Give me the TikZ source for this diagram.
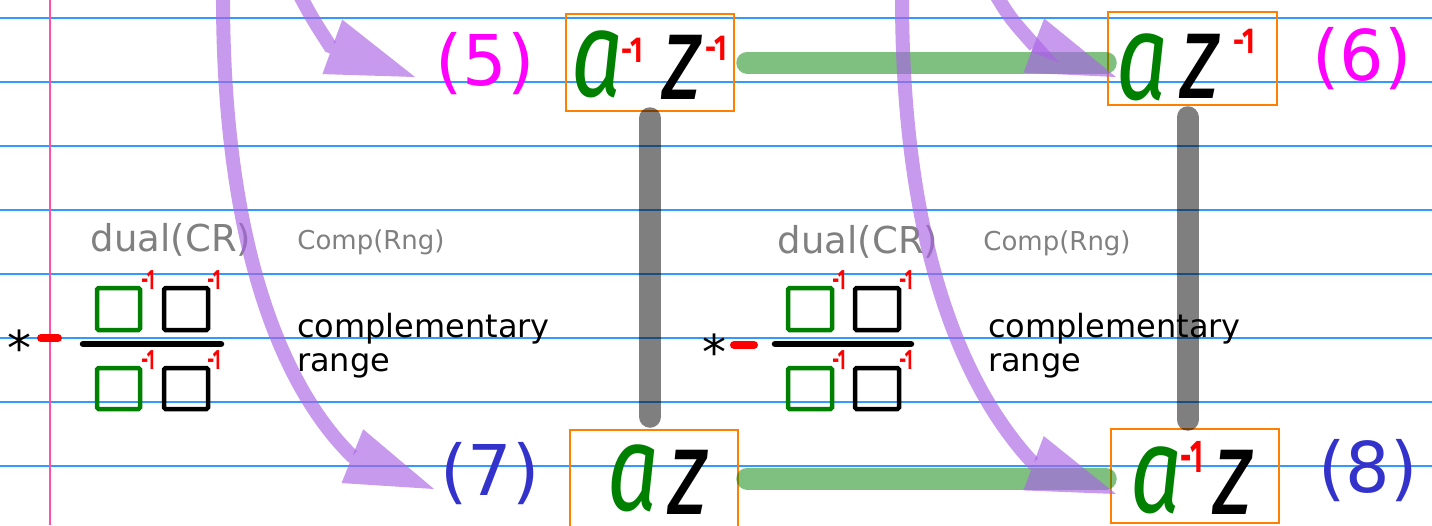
\documentclass[tikz,border=0pt]{standalone}
\usepackage{graphicx}
\usepackage{fontspec}
\setmainfont{DejaVu Sans}
\newfontfamily\hand{Fira Sans}
\usetikzlibrary{arrows.meta,calc}
\definecolor{rulecol}{RGB}{51,153,255}
\definecolor{margincol}{RGB}{255,80,170}
\definecolor{boxor}{RGB}{255,128,0}
\definecolor{lgreen}{RGB}{0,128,0}
\definecolor{purp}{RGB}{170,100,230}
\definecolor{labblue}{RGB}{51,51,204}
\definecolor{labmag}{RGB}{255,0,255}
\definecolor{txtgray}{RGB}{128,128,128}
\newcommand{\hw}[1]{\scalebox{0.75}[1]{#1}}
\newcommand{\minv}[2]{\scalebox{#2}[1]{\fontsize{#1}{#1}\selectfont\hand\bfseries -1}}
\begin{document}
\begin{tikzpicture}[x=1pt,y=-1pt,
  ruleline/.style={draw=rulecol, line width=1.5pt},
  nbox/.style={draw=boxor, line width=2.5pt, inner sep=0pt},
  aletter/.style={text=lgreen, inner sep=0pt, font=\hand\itshape\fontsize{122}{122}\selectfont},
  zletter/.style={text=black, inner sep=0pt, font=\hand\itshape\fontsize{122}{122}\selectfont},
  supbig/.style={text=red, inner sep=0pt},
  numlab/.style={inner sep=0pt, font=\fontsize{70}{70}\selectfont},
  graytxt/.style={inner sep=0pt, text=txtgray},
  grayconn/.style={draw=black, draw opacity=0.5, line width=22pt, line cap=round},
  greenconn/.style={draw=lgreen, draw opacity=0.5, line width=22pt, line cap=round},
  parrow/.style={draw=purp, opacity=0.65, line width=14pt, -{Triangle[length=88pt,width=58pt,line width=0pt]}},
  sqg/.style={draw=lgreen, line width=4.5pt, rounded corners=1.5pt},
  sqk/.style={draw=black, line width=4.5pt, rounded corners=1.5pt},
  redbar/.style={draw=red, line width=8pt, line cap=round},
  fracbar/.style={draw=black, line width=6.5pt, line cap=round},
  smallinv/.style={text=red, inner sep=0pt}
]
\useasboundingbox (0,0) rectangle (1432,525);
\clip (0,0) rectangle (1432,525);
\fill[white] (0,0) rectangle (1432,525);

% ruled paper
\foreach \yy in {18,82,...,466} \draw[ruleline] (0,\yy) -- (1432,\yy);
\draw[draw=margincol, line width=1.5pt] (50,0) -- (50,525);

% boxes
\node[nbox, minimum width=168pt, minimum height=97pt] (b5) at (650,62.5) {};
\node[nbox, minimum width=169pt, minimum height=93pt] (b6) at (1192.5,58.5) {};
\node[nbox, minimum width=168pt, minimum height=97pt] (b7) at (654,478.5) {};
\node[nbox, minimum width=168pt, minimum height=94pt] (b8) at (1195,476) {};

% connectors
\draw[grayconn, shorten <=6pt, shorten >=12pt] (b5.south) -- (b5.south |- b7.north);
\draw[grayconn, shorten <=11pt, shorten >=8pt] ([xshift=-5pt]b6.south) -- ([xshift=-5pt]b6.south |- b8.north);
\draw[greenconn, shorten <=12pt, shorten >=1pt] (b5.east) -- (b5.east -| b6.west);
\draw[greenconn, shorten <=8pt, shorten >=4pt] (b7.east) -- (b7.east -| b8.west);

% box contents
\node[aletter] (a5) at (598,64) {\hw{a}};
\node[supbig] (s5a) at (632,50) {\minv{36}{0.75}};
\node[zletter] (z5) at (682,67) {\hw{z}};
\node[supbig] (s5b) at (716,48) {\minv{36}{0.75}};

\node[aletter] (a6) at (1143,67) {\hw{a}};
\node[zletter] (z6) at (1200,66) {\hw{z}};
\node[supbig] (s6) at (1244,41) {\minv{36}{0.75}};

\node[aletter] (a7) at (634,478) {\hw{a}};
\node[zletter] (z7) at (688,482) {\hw{z}};

\node[aletter] (a8) at (1157,480) {\hw{a}};
\node[supbig] (s8) at (1192,457) {\minv{46}{0.6}};
\node[zletter] (z8) at (1233,482) {\hw{z}};

% labels
\node[numlab, text=labmag] (l5) at (485,64) {(5)};
\node[numlab, text=labmag] (l6) at (1362,59) {(6)};
\node[numlab, text=labblue] (l7) at (490,474) {(7)};
\node[numlab, text=labblue] (l8) at (1368,471) {(8)};

% left annotation group
\node[graytxt, font=\fontsize{37}{37}\selectfont] (d1) at (171,240) {dual(CR)};
\node[graytxt, font=\fontsize{26}{26}\selectfont] (c1) at (371,242) {Comp(Rng)};
\node[inner sep=0pt, anchor=base, font=\fontsize{48}{48}\selectfont] (st1) at (19,365) {*};
\draw[redbar] (41,338) -- (58,338);
\draw[fracbar] (83,344) -- (221,344);
\draw[sqg] (97,288) rectangle (140,330);
\draw[sqk] (164,288) rectangle (208,330);
\draw[sqg] (97,368) rectangle (140,409);
\draw[sqk] (164,368) rectangle (208,409);
\node[smallinv] (i1) at (148,280) {\minv{28}{0.6}};
\node[smallinv] (i2) at (214,280) {\minv{28}{0.6}};
\node[smallinv] (i3) at (148,360) {\minv{28}{0.6}};
\node[smallinv] (i4) at (214,360) {\minv{28}{0.6}};
\node[inner sep=0pt, anchor=west, align=left, font=\fontsize{32}{34}\selectfont] (r1) at (297,345.5) {complementary\\range};

% right annotation group
\node[graytxt, font=\fontsize{37}{37}\selectfont] (d2) at (858,242) {dual(CR)};
\node[graytxt, font=\fontsize{26}{26}\selectfont] (c2) at (1057,243) {Comp(Rng)};
\node[inner sep=0pt, anchor=base, font=\fontsize{48}{48}\selectfont] (st2) at (714,369) {*};
\draw[redbar] (734,345) -- (754,345);
\draw[fracbar] (775,344) -- (911,344);
\draw[sqg] (788,288) rectangle (832,330);
\draw[sqk] (855,288) rectangle (899,330);
\draw[sqg] (788,368) rectangle (832,409);
\draw[sqk] (855,368) rectangle (899,409);
\node[smallinv] (i5) at (839,280) {\minv{28}{0.6}};
\node[smallinv] (i6) at (906,280) {\minv{28}{0.6}};
\node[smallinv] (i7) at (839,360) {\minv{28}{0.6}};
\node[smallinv] (i8) at (906,360) {\minv{28}{0.6}};
\node[inner sep=0pt, anchor=west, align=left, font=\fontsize{32}{34}\selectfont] (r2) at (988,345.5) {complementary\\range};

% purple arrows
\coordinate (pA0) at (297,-10); \coordinate (pA1) at (330,46); \coordinate (pA2) at (415,77);
\coordinate (pB0) at (223,-10); \coordinate (pB1) at (352,456); \coordinate (pB2) at (434,489);
\coordinate (pC0) at (993,-10); \coordinate (pC1) at (1035,46); \coordinate (pC2) at (1116,77);
\coordinate (pD0) at (902,-10); \coordinate (pD1) at (1033,463); \coordinate (pD2) at (1116,494);
\draw[parrow] (pA0) .. controls (312,18) .. (pA1) -- (pA2);
\draw[parrow] (pB0) .. controls (222,250) and (285,390) .. (pB1) -- (pB2);
\draw[parrow] (pC0) .. controls (1010,18) .. (pC1) -- (pC2);
\draw[parrow] (pD0) .. controls (901,250) and (965,390) .. (pD1) -- (pD2);
\end{tikzpicture}
\end{document}
